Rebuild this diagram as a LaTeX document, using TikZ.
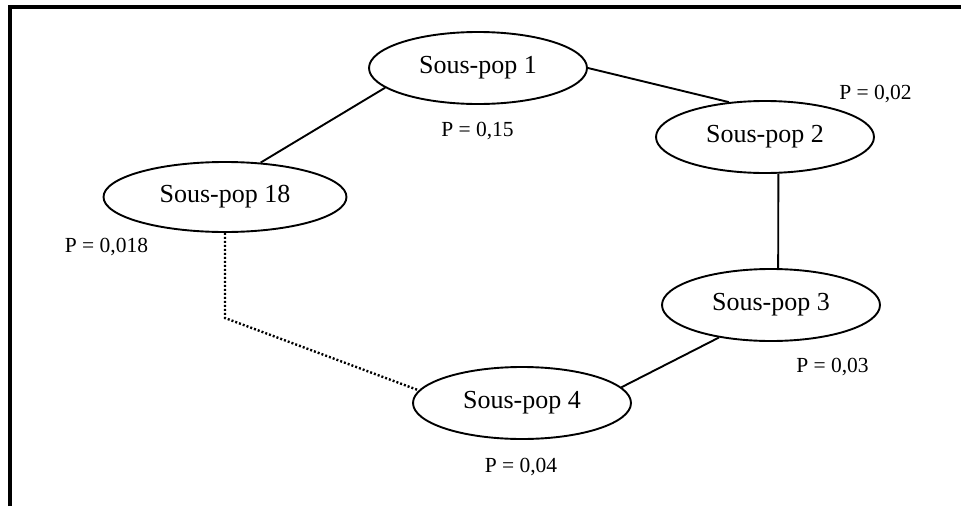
\documentclass[tikz,border=0pt]{standalone}
\usepackage{fontspec}
\setmainfont{Liberation Serif}
\usetikzlibrary{shapes.geometric}
\begin{document}
\begin{tikzpicture}[x=1pt,y=-1pt,
  pop/.style={ellipse,draw,line width=1.9pt,inner sep=0pt,
    minimum width=218pt,minimum height=72pt,
    font=\fontsize{26}{30}\selectfont},
  prob/.style={anchor=base,inner sep=0pt,font=\fontsize{21.5}{24}\selectfont},
  link/.style={line width=1.9pt},
  dotlink/.style={line width=2.4pt,dash pattern=on 2pt off 2pt}]
\useasboundingbox (0,0) rectangle (961,506);
% frame: top and left edges only
\draw[line width=4pt] (9.5,506) -- (9.5,7) -- (961,7);
% sub-populations
\node[pop] (n1) at (478,68) {Sous-pop 1};
\node[pop] (n2) at (765,137) {Sous-pop 2};
\node[pop] (n3) at (771,305) {Sous-pop 3};
\node[pop] (n4) at (522,403) {Sous-pop 4};
\node[pop,minimum width=243pt,minimum height=70pt] (n18) at (225,197) {Sous-pop 18};
% probabilities
\node[prob] (p1) at (477.5,136.5) {P = 0,15};
\node[prob] (p2) at (875.5,99) {P = 0,02};
\node[prob] (p3) at (832.5,372) {P = 0,03};
\node[prob] (p4) at (521,472) {P = 0,04};
\node[prob] (p18) at (106.5,252) {P = 0,018};
% links
\draw[link] (n1.east) -- (n2.136);
\draw[link] (n2.-70) -- (n3.79);
\draw[link] (n3.212) -- (n4.9);
\draw[link] (n1.192) -- (n18.44);
\coordinate (bend) at (225,318);
\draw[dotlink] (n18.south) -- (bend) -- (n4.173);
\end{tikzpicture}
\end{document}
